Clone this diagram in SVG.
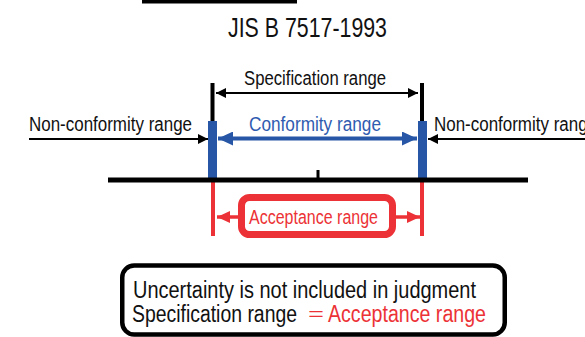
<svg xmlns="http://www.w3.org/2000/svg" width="585" height="337" viewBox="0 0 585 337">
<style>
text{font-family:"Liberation Sans",Arial,sans-serif;}
.lbl{font-size:20px;fill:#111;}
.blue{fill:#2f5bb0;}
.red{fill:#ec3236;}
.blk{stroke:#000;stroke-width:2;fill:none;}
</style>
<defs>
<marker id="ab" viewBox="0 0 10 10" refX="10" refY="5" markerWidth="10" markerHeight="10" markerUnits="userSpaceOnUse" orient="auto-start-reverse"><path d="M0,0 L10,5 L0,10 Z" fill="#000"/></marker>
<marker id="ablue" viewBox="0 0 10 10" refX="10" refY="5" markerWidth="15" markerHeight="14" markerUnits="userSpaceOnUse" orient="auto-start-reverse" preserveAspectRatio="none"><path d="M0,0 L10,5 L0,10 Z" fill="#2756a6"/></marker>
<marker id="ared" viewBox="0 0 10 10" refX="10" refY="5" markerWidth="13" markerHeight="12" markerUnits="userSpaceOnUse" orient="auto-start-reverse" preserveAspectRatio="none"><path d="M0,0 L10,5 L0,10 Z" fill="#ec3236"/></marker>
</defs>
<rect width="585" height="337" fill="#fff"/>
<rect x="142" y="0" width="155" height="3.5" fill="#000"/>
<g id="title"><text x="228" y="37" font-size="27" fill="#111" textLength="159" lengthAdjust="spacingAndGlyphs">JIS B 7517-1993</text></g>

<g id="limits">
<rect x="210.5" y="83" width="4" height="40" fill="#000"/>
<rect x="420" y="83" width="4" height="40" fill="#000"/>
<rect x="208" y="121" width="9" height="58" fill="#2756a6"/>
<rect x="418" y="121" width="9" height="58" fill="#2756a6"/>
<rect x="211" y="182" width="4" height="54" fill="#ec3236"/>
<rect x="420" y="182" width="4" height="54" fill="#ec3236"/>
</g>

<g id="axis">
<rect x="108" y="177.5" width="420" height="5" fill="#000"/>
<rect x="316.5" y="170" width="3" height="9" fill="#000"/>
</g>

<g id="spec-range"><text class="lbl" x="244" y="85" textLength="142" lengthAdjust="spacingAndGlyphs">Specification range</text></g>
<g id="nonconf-left"><text class="lbl" x="29" y="131" textLength="163" lengthAdjust="spacingAndGlyphs">Non-conformity range</text></g>
<g id="conformity"><text class="lbl blue" x="249" y="131" textLength="132" lengthAdjust="spacingAndGlyphs">Conformity range</text></g>
<g id="nonconf-right"><text class="lbl" x="434" y="131" textLength="163" lengthAdjust="spacingAndGlyphs">Non-conformity range</text></g>

<g id="acceptance">
<rect x="241.5" y="197.5" width="151" height="37" rx="8" fill="#fff" stroke="#ec3236" stroke-width="7"/>
<text class="lbl red" x="249" y="224" textLength="129" lengthAdjust="spacingAndGlyphs">Acceptance range</text>
</g>

<g id="connectors">
<line class="blk" x1="216" y1="93" x2="418" y2="93" marker-start="url(#ab)" marker-end="url(#ab)"/>
<line class="blk" x1="29" y1="139" x2="208" y2="139" marker-end="url(#ab)"/>
<line class="blk" x1="585" y1="139" x2="428" y2="139" marker-end="url(#ab)"/>
<line x1="218" y1="138.5" x2="417" y2="138.5" stroke="#2756a6" stroke-width="4" marker-start="url(#ablue)" marker-end="url(#ablue)"/>
<line x1="217" y1="217" x2="238" y2="217" stroke="#ec3236" stroke-width="3.5" marker-start="url(#ared)"/>
<line x1="396" y1="217" x2="420" y2="217" stroke="#ec3236" stroke-width="3.5" marker-end="url(#ared)"/>
</g>

<g id="note">
<rect x="122.25" y="265.5" width="382.5" height="69" rx="12" fill="#fff" stroke="#000" stroke-width="4.5"/>
<text x="133" y="298" font-size="23" fill="#111" textLength="343" lengthAdjust="spacingAndGlyphs">Uncertainty is not included in judgment</text>
<text y="322" font-size="23" fill="#111"><tspan x="132" textLength="165" lengthAdjust="spacingAndGlyphs">Specification range</tspan><tspan x="307" y="321" font-size="18" fill="#ec3236" style="font-family:'Noto Sans CJK JP',sans-serif">＝</tspan><tspan x="328" y="322" fill="#ec3236" textLength="158" lengthAdjust="spacingAndGlyphs">Acceptance range</tspan></text>
</g>
</svg>
